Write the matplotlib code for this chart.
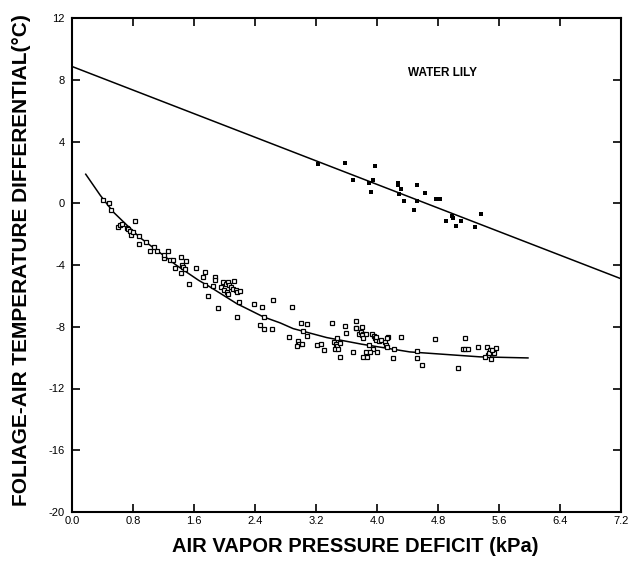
import numpy as np
import matplotlib
matplotlib.use('Agg')
import matplotlib.pyplot as plt

plt.rcParams['font.family'] = ['Liberation Sans', 'DejaVu Sans']
plt.rcParams['axes.unicode_minus'] = False

# water lily data (small filled marks) and fitted straight line
lily_x = [3.23, 3.58, 3.68, 3.89, 3.95, 3.98, 3.92, 4.27, 4.28, 4.32, 4.29, 4.35,
          4.53, 4.52, 4.48, 4.63, 4.78, 4.82, 4.99, 5.00, 4.91, 5.10, 5.04, 5.29, 5.37]
lily_y = [2.57, 2.63, 1.51, 1.34, 1.49, 2.40, 0.76, 1.17, 1.28, 0.95, 0.58, 0.15,
          1.21, 0.13, -0.41, 0.69, 0.30, 0.30, -0.84, -0.93, -1.17, -1.15, -1.47, -1.53, -0.71]
lily_line_x = [0.0, 7.2]
lily_line_y = [8.86, -4.89]

# open squares and their fitted curve
sq_x = [0.40, 0.48, 0.51, 0.83, 0.60, 0.63, 0.66, 0.72, 0.74, 0.76, 0.78, 0.80,
        0.88, 0.88, 0.97, 1.02, 1.08, 1.12, 1.20, 1.21, 1.26, 1.28, 1.33, 1.43,
        1.49, 1.35, 1.44, 1.46, 1.48, 1.43, 1.54, 1.63, 1.74, 1.72, 1.75, 1.79,
        1.87, 1.88, 1.85, 1.92, 1.98, 2.02, 2.04, 2.06, 2.09, 1.95, 1.99, 2.03,
        2.05, 2.12, 2.11, 2.15, 2.17, 2.20, 2.19, 2.16, 2.39, 2.49, 2.52, 2.47,
        2.52, 2.62, 2.63, 2.88, 2.84, 3.00, 3.08, 3.03, 3.08, 2.96, 2.98, 3.01,
        2.95, 3.21, 3.26, 3.41, 3.58, 3.59, 3.73, 3.72, 3.76, 3.30, 3.43, 3.46,
        3.48, 3.45, 3.49, 3.48, 3.51, 3.51, 3.68, 3.72, 3.80, 3.79, 3.81, 3.80,
        3.86, 3.82, 3.86, 3.81, 3.87, 3.93, 3.96, 3.97, 3.99, 4.02, 4.05, 3.99,
        3.90, 3.95, 3.91, 4.00, 4.10, 4.12, 4.13, 4.15, 4.13, 4.22, 4.21, 4.32,
        4.52, 4.52, 4.59, 4.76, 5.06, 5.15, 5.13, 5.16, 5.19, 5.32, 5.44, 5.48,
        5.51, 5.45, 5.42, 5.49, 5.56, 5.53, 5.47, 5.51]
sq_y = [0.19, 0.00, -0.41, -1.15, -1.53, -1.42, -1.32, -1.58, -1.68, -1.79, -2.03, -1.88,
        -2.12, -2.63, -2.53, -3.07, -2.83, -3.11, -3.52, -3.35, -3.09, -3.69, -3.69, -3.50,
        -3.71, -4.17, -4.02, -4.12, -4.23, -4.53, -5.20, -4.19, -4.45, -4.77, -5.31, -6.00,
        -4.79, -4.99, -5.38, -6.80, -5.12, -5.25, -5.12, -5.31, -5.42, -5.42, -5.63, -5.74,
        -5.91, -5.03, -5.55, -5.65, -5.76, -5.70, -6.39, -7.40, -6.54, -6.71, -7.40, -7.86,
        -8.14, -8.12, -6.26, -6.69, -8.66, -7.75, -7.82, -8.25, -8.61, -8.92, -9.09, -9.09,
        -9.26, -9.15, -9.09, -7.75, -7.92, -8.40, -7.62, -8.07, -8.44, -9.52, -9.02, -9.13,
        -9.26, -9.41, -9.46, -8.70, -9.05, -9.97, -9.61, -8.10, -7.99, -8.34, -8.44, -8.55,
        -8.44, -8.70, -9.63, -9.95, -9.95, -8.50, -8.61, -8.72, -8.87, -8.94, -8.87, -8.66,
        -9.15, -9.41, -9.63, -9.63, -8.98, -9.20, -9.31, -8.66, -8.76, -9.46, -10.02, -8.64,
        -9.54, -10.02, -10.45, -8.81, -10.66, -8.72, -9.46, -9.46, -9.46, -9.31, -9.31, -9.48,
        -9.69, -9.84, -9.99, -10.08, -9.35, -9.73, -9.67, -9.48]
curve_x = [0.18, 0.37, 0.54, 0.72, 0.89, 1.11, 1.37, 1.66, 1.81, 2.16, 2.51, 2.73,
           2.90, 3.34, 3.80, 4.43, 5.35, 5.98]
curve_y = [1.88, 0.52, -0.56, -1.42, -2.22, -3.04, -4.02, -4.99, -5.42, -6.50, -7.36, -7.75,
           -8.12, -8.70, -9.13, -9.63, -9.95, -10.02]

x_ticks = [0.0, 0.8, 1.6, 2.4, 3.2, 4.0, 4.8, 5.6, 6.4, 7.2]
x_labels = ['0.0', '0.8', '1.6', '2.4', '3.2', '4.0', '4.8', '5.6', '6.4', '7.2']
y_ticks = [-20, -16, -12, -8, -4, 0, 4, 8, 12]

fig = plt.figure(figsize=(6.31, 5.72), dpi=100)
ax = fig.add_axes([72/631, 1 - 512/572, 549/631, 494/572])

ax.plot(lily_line_x, lily_line_y, 'k-', lw=1.1)
ax.plot(curve_x, curve_y, 'k-', lw=1.1)
ax.plot(lily_x, lily_y, 's', color='k', ms=2.2, mew=0)
ax.plot(sq_x, sq_y, 's', mfc='white', mec='k', ms=3.2, mew=0.9)

ax.text(4.41, 8.42, 'WATER LILY', fontsize=8.5, fontweight='bold', va='center', ha='left')

ax.set_xlim(0, 7.2)
ax.set_ylim(-20, 12)
ax.set_xticks(x_ticks)
ax.set_xticklabels(x_labels)
ax.set_yticks(y_ticks)
ax.tick_params(direction='in', top=True, right=True, length=6, width=1.2, labelsize=8)
ax.tick_params(axis='x', pad=3)
ax.tick_params(axis='y', pad=5)
for s in ax.spines.values():
    s.set_linewidth(1.5)

fig.text(355/631, 1 - 546/572, 'AIR VAPOR PRESSURE DEFICIT (kPa)', fontsize=14.5,
         fontweight='bold', ha='center', va='center')
fig.text(22/631, 1 - 260/572, 'FOLIAGE-AIR TEMPERATURE DIFFERENTIAL(°C)', fontsize=15,
         fontweight='bold', ha='center', va='center', rotation=90)

fig.savefig('out.png', dpi=100)
